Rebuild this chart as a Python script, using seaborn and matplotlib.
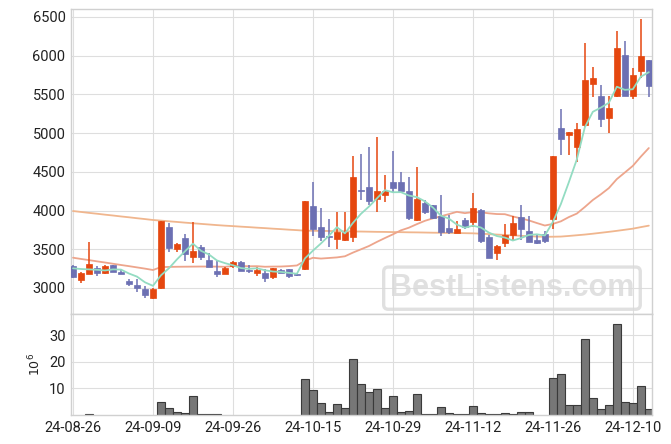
import numpy as np
import pandas as pd
import matplotlib.pyplot as plt
import seaborn as sns

# --------------------------
# Data (price in KRW, volume in 10^6)
# --------------------------
tick_labels = ["24-08-26", "24-09-09", "24-09-26", "24-10-15",
               "24-10-29", "24-11-12", "24-11-26", "24-12-10"]

opens = [3286, 3103, 3185, 3258, 3198, 3293, 3211, 3094, 3043, 2991,
         2875, 2996, 3784, 3504, 3646, 3396, 3530, 3362, 3224, 3185,
         3288, 3336, 3232, 3194, 3194, 3138, 3232, 3241, 3176, 3250,
         4059, 3788, 3668, 3637, 3624, 3663, 4258, 4308, 4146, 4205,
         4369, 4369, 4253, 3874, 4094, 4068, 3934, 3775, 3714, 3878,
         3849, 4003, 3655, 3448, 3585, 3685, 3917, 3736, 3620, 3693,
         3895, 5062, 4980, 4817, 5110, 5631, 5480, 5200, 5484, 6008,
         5484, 5806, 5940]
highs = [3295, 3205, 3598, 3288, 3300, 3300, 3236, 3120, 3120, 3030,
         2995, 3870, 3843, 3585, 3697, 3856, 3560, 3448, 3362, 3275,
         3350, 3345, 3300, 3270, 3250, 3262, 3245, 3250, 3198, 4124,
         4366, 4029, 3887, 3981, 3981, 4705, 4727, 4825, 4946, 4459,
         4773, 4494, 4437, 4559, 4136, 4075, 4197, 3947, 3869, 3900,
         4231, 4016, 3690, 3551, 3827, 3930, 4068, 3930, 3680, 3730,
         4709, 5316, 5015, 5135, 6160, 5859, 5618, 5480, 6325, 6196,
         5846, 6470, 5945]
lows = [3125, 3068, 3177, 3160, 3185, 3200, 3180, 3030, 2953, 2875,
        2855, 2990, 3469, 3465, 3353, 3327, 3365, 3270, 3146, 3180,
        3260, 3215, 3190, 3150, 3080, 3112, 3190, 3124, 3150, 3230,
        3672, 3611, 3533, 3508, 3610, 3598, 4136, 4072, 3978, 4114,
        4244, 4231, 3878, 3865, 3956, 3890, 3672, 3693, 3706, 3762,
        3792, 3585, 3392, 3362, 3526, 3620, 3620, 3598, 3565, 3577,
        3758, 4718, 4718, 4631, 5084, 5463, 5084, 5006, 5471, 5484,
        5437, 5708, 5463]
closes = [3140, 3198, 3310, 3198, 3284, 3211, 3185, 3056, 3000, 2914,
          2983, 3865, 3513, 3572, 3435, 3478, 3404, 3275, 3185, 3262,
          3340, 3224, 3220, 3228, 3133, 3258, 3198, 3159, 3170, 4124,
          3758, 3663, 3660, 3723, 3723, 4430, 4250, 4127, 4253, 4257,
          4295, 4257, 3908, 4150, 3985, 3900, 3727, 3719, 3762, 3784,
          4029, 3611, 3392, 3538, 3685, 3839, 3766, 3598, 3577, 3611,
          4709, 4920, 5011, 5053, 5686, 5708, 5188, 5321, 6095, 5484,
          5747, 5996, 5613]
volume = [0, 0, 0.4, 0, 0, 0, 0, 0, 0, 0,
          0, 4.75, 2.5, 1.0, 0.6, 7.0, 0.25, 0.25, 0.25, 0,
          0, 0, 0, 0, 0, 0, 0, 0, 0, 13.4,
          9.25, 4.4, 1.0, 4.0, 2.5, 20.9, 11.5, 8.5, 9.6, 2.5,
          7.0, 1.0, 1.4, 7.75, 0.25, 0.25, 2.9, 0.6, 0.25, 0.25,
          3.25, 0.6, 0.25, 0.25, 0.6, 0.25, 1.0, 1.0, 0, 0,
          14.1, 15.25, 3.6, 3.6, 28.75, 6.25, 2.1, 3.6, 34.4, 4.75,
          4.4, 11.1, 2.1]

# moving-average warm-up values (history before the window is not shown)
ma5_head = [3254, 3245, 3240, 3235]
ma20_head = [3391, 3375, 3360, 3344, 3329, 3313, 3297, 3282, 3266, 3250,
             3232, 3270, 3272, 3274, 3275, 3276, 3277, 3277, 3276]
ma_long = [3994, 3982, 3970, 3959, 3947, 3936, 3924, 3913, 3901, 3890,
           3878, 3870, 3861, 3853, 3844, 3836, 3828, 3820, 3812, 3805,
           3799, 3792, 3786, 3779, 3773, 3766, 3760, 3753, 3747, 3740,
           3739, 3737, 3736, 3734, 3732, 3730, 3729, 3727, 3725, 3724,
           3722, 3721, 3719, 3718, 3716, 3714, 3713, 3711, 3710, 3708,
           3706, 3701, 3696, 3690, 3685, 3680, 3674, 3669, 3664, 3661,
           3662, 3664, 3672, 3681, 3690, 3701, 3713, 3725, 3738, 3752,
           3766, 3786, 3805]

df = pd.DataFrame({"open": opens, "high": highs, "low": lows,
                   "close": closes, "volume": volume})
df["idx"] = np.arange(len(df))
df["ma5"] = df["close"].rolling(5).mean()
df.loc[:len(ma5_head) - 1, "ma5"] = ma5_head
df["ma20"] = df["close"].rolling(20).mean()
df.loc[:len(ma20_head) - 1, "ma20"] = ma20_head
df["ma_long"] = ma_long

# --------------------------
# Style
# --------------------------
sns.set_style("whitegrid", {"grid.color": "#dedede", "axes.edgecolor": "#d0d0d0"})
plt.rcParams["font.family"] = ["Roboto", "DejaVu Sans"]
plt.rcParams["font.size"] = 10.5

UP = "#e5470f"
DOWN = "#6c70b3"

fig = plt.figure(figsize=(6.71, 4.44), dpi=100)
ax = fig.add_axes([0.1058, 0.2928, 0.8659, 0.6869])
axv = fig.add_axes([0.1058, 0.0653, 0.8659, 0.2275], sharex=ax)

# --------------------------
# Candles
# --------------------------
up = df["close"] >= df["open"]
colors = np.where(up, UP, DOWN)
body_low = df[["open", "close"]].min(axis=1)
body_h = (df["close"] - df["open"]).abs().clip(lower=12)

ax.vlines(df["idx"], df["low"], df["high"], colors=colors, linewidth=1.1, zorder=3)
ax.bar(df["idx"], body_h, bottom=body_low, width=0.72, color=colors,
       edgecolor=colors, linewidth=0.5, zorder=4)

sns.lineplot(data=df, x="idx", y="ma_long", ax=ax, color="#f0b68e", linewidth=1.3, zorder=2)
sns.lineplot(data=df, x="idx", y="ma20", ax=ax, color="#eda58c", linewidth=1.3, zorder=2)
sns.lineplot(data=df, x="idx", y="ma5", ax=ax, color="#93dcc2", linewidth=1.3, zorder=5)

ax.set_ylim(2664, 6603)
ax.set_yticks(range(3000, 6501, 500))
ax.set_xlabel("")
ax.set_ylabel("")
ax.tick_params(axis="x", labelbottom=False, length=0)
ax.tick_params(axis="y", length=0, pad=4, colors="#222222")

# --------------------------
# Volume
# --------------------------
vol = df[df["volume"] > 0]
sns.barplot(data=vol, x="idx", y="volume", ax=axv, native_scale=True, width=1.0,
            color="#777777", saturation=1, edgecolor="#3a3a3a", linewidth=0.8)
axv.set_ylim(0, 38)
axv.set_yticks([10, 20, 30])
axv.set_xlim(-0.25, 72.4)
axv.set_xticks(range(0, 73, 10))
axv.set_xticklabels(tick_labels)
axv.set_xlabel("")
axv.set_ylabel("$10^6$", fontsize=9, color="#222222", labelpad=4)
axv.tick_params(length=0, pad=4, colors="#222222")

for a in (ax, axv):
    for s in a.spines.values():
        s.set_color("#d0d0d0")
        s.set_linewidth(1.0)

# watermark
fig.text(0.763, 0.351, "BestListens.com", family="Liberation Sans", fontweight="bold",
         fontsize=22, color="#d9d9d9", alpha=0.8, ha="center", va="center",
         bbox=dict(boxstyle="round,pad=0.2,rounding_size=0.15", fc="none",
                   ec="#d9d9d9", lw=2.4, alpha=0.8))

fig.savefig("out.png", dpi=100)
